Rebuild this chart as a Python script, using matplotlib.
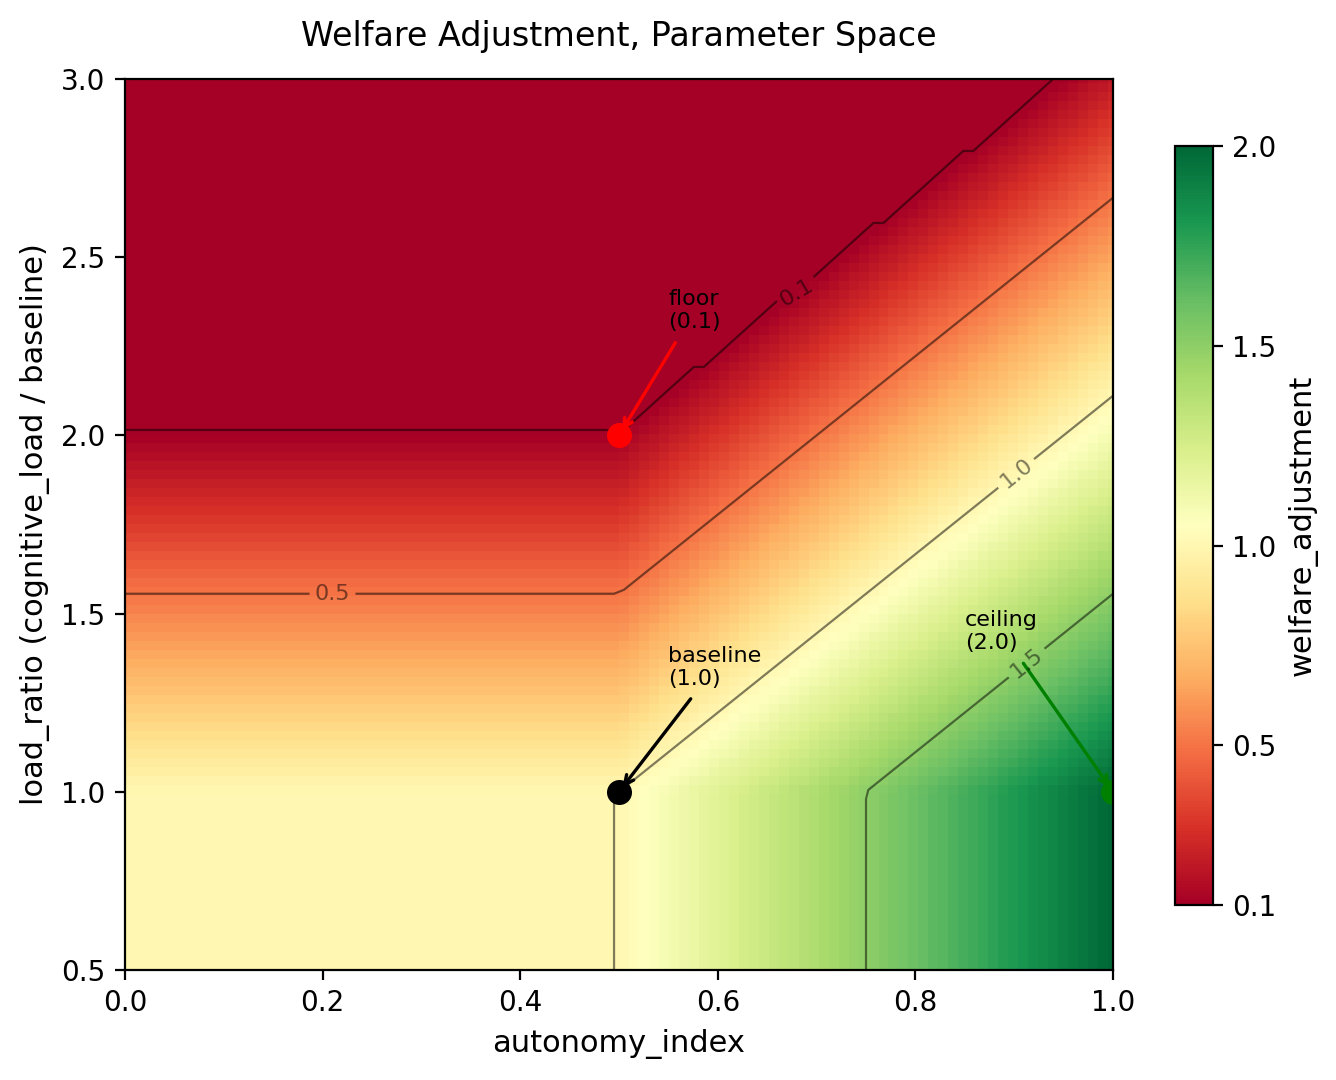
import numpy as np
import matplotlib
matplotlib.use("Agg")
import matplotlib.pyplot as plt

# grid extents
autonomy_range = [0.0, 1.0]
load_range = [0.5, 3.0]
n_points = 100

# model parameters
baseline_autonomy = 0.5
baseline_load = 1.0
autonomy_gain = 2.0
load_penalty = 0.9
floor_value = 0.1
ceiling_value = 2.0

contour_levels = [0.1, 0.5, 1.0, 1.5]
label_spots = [(0.68, 2.4), (0.21, 1.56), (0.9, 1.9), (0.91, 1.37)]
cbar_ticks = [0.1, 0.5, 1.0, 1.5, 2.0]

# reference points
point_names = ["floor\n(0.1)", "baseline\n(1.0)", "ceiling\n(2.0)"]
point_x = [0.5, 0.5, 1.0]
point_y = [2.0, 1.0, 1.0]
label_x = [0.55, 0.55, 0.85]
label_y = [2.3, 1.3, 1.4]
point_colors = ["red", "black", "green"]

a = np.linspace(autonomy_range[0], autonomy_range[1], n_points)
L = np.linspace(load_range[0], load_range[1], n_points)
A, LL = np.meshgrid(a, L)
bonus = autonomy_gain * np.maximum(A - baseline_autonomy, 0)
penalty = load_penalty * np.maximum(LL - baseline_load, 0)
W = np.clip(1.0 + bonus - penalty, floor_value, ceiling_value)

fig = plt.figure(figsize=(6.68, 5.4), dpi=200)
ax = fig.add_axes([0.0936, 0.1019, 0.7395, 0.825])
cax = fig.add_axes([0.8795, 0.162, 0.0284, 0.7028])

mesh = ax.pcolormesh(A, LL, W, cmap="RdYlGn", vmin=floor_value, vmax=ceiling_value, shading="auto")
cs = ax.contour(A, LL, W, levels=contour_levels, colors="black", linewidths=0.8, alpha=0.5)
ax.clabel(cs, inline=True, fontsize=8, fmt="%.1f", manual=label_spots)

for name, px, py, tx, ty, c in zip(point_names, point_x, point_y, label_x, label_y, point_colors):
    ax.plot(px, py, "o", color=c, markersize=8)
    ax.annotate(name, xy=(px, py), xytext=(tx, ty), fontsize=8,
                arrowprops=dict(arrowstyle="->", color=c, lw=1.2))

ax.set_xlim(autonomy_range)
ax.set_ylim(load_range)
ax.set_xlabel("autonomy_index", fontsize=11)
ax.set_ylabel("load_ratio (cognitive_load / baseline)", fontsize=11)
ax.set_title("Welfare Adjustment, Parameter Space", fontsize=12, pad=12)

cbar = fig.colorbar(mesh, cax=cax, ticks=cbar_ticks)
cbar.set_label("welfare_adjustment", fontsize=11)

plt.savefig("out.png", dpi=200)
